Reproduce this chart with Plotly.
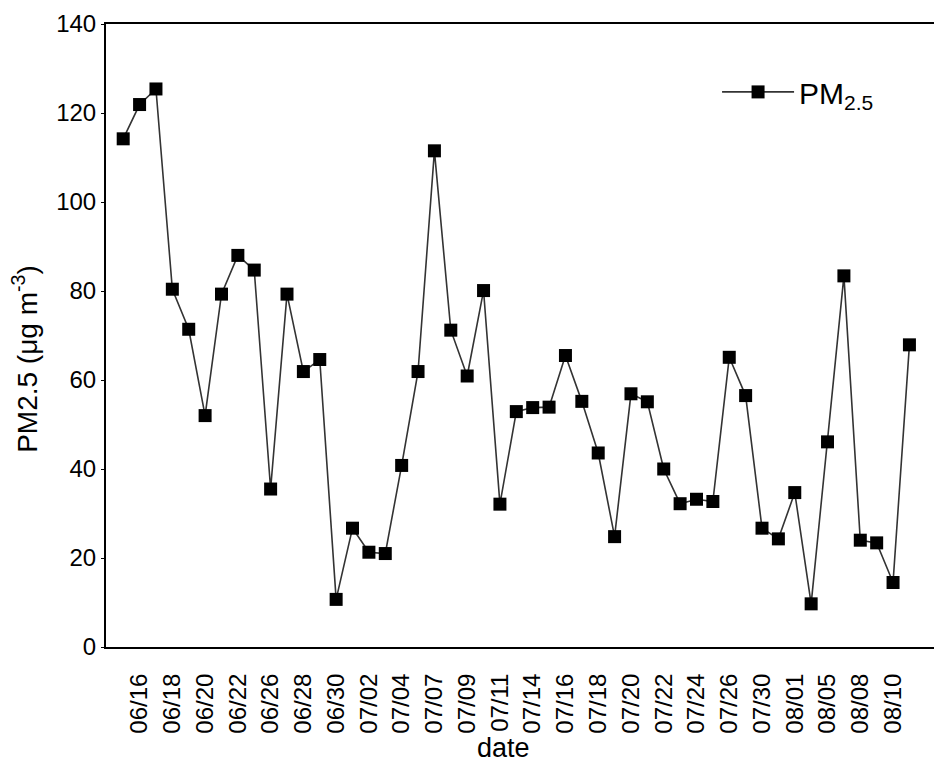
import plotly.graph_objects as go

dates = ["06/15", "06/16", "06/17", "06/18", "06/19", "06/20", "06/21", "06/22",
         "06/25", "06/26", "06/27", "06/28", "06/29", "06/30", "07/01", "07/02",
         "07/03", "07/04", "07/06", "07/07", "07/08", "07/09", "07/10", "07/11",
         "07/13", "07/14", "07/15", "07/16", "07/17", "07/18", "07/19", "07/20",
         "07/21", "07/22", "07/23", "07/24", "07/25", "07/26", "07/28", "07/30",
         "07/31", "08/01", "08/03", "08/05", "08/06", "08/08", "08/09", "08/10",
         "08/11"]

pm25 = [114.2, 121.9, 125.4, 80.4, 71.4, 52.0, 79.3, 88.0,
        84.7, 35.5, 79.3, 61.9, 64.6, 10.7, 26.7, 21.3,
        21.0, 40.8, 61.9, 111.5, 71.2, 60.9, 80.1, 32.1,
        52.9, 53.8, 53.9, 65.5, 55.2, 43.6, 24.8, 56.9,
        55.1, 40.0, 32.2, 33.2, 32.7, 65.1, 56.5, 26.7,
        24.3, 34.7, 9.7, 46.1, 83.4, 24.0, 23.4, 14.5,
        67.9]

tick_labels = dates[1::2]
y_ticks = [0, 20, 40, 60, 80, 100, 120, 140]

FONT = "Liberation Sans, Arial, sans-serif"

fig = go.Figure()
fig.add_trace(go.Scatter(
    x=dates, y=pm25, mode="lines+markers",
    name="PM<sub>2.5</sub>",
    line=dict(color="#333333", width=1.6),
    marker=dict(symbol="square", size=13, color="black"),
))

fig.update_layout(
    width=934, height=764,
    margin=dict(l=106, r=0, t=24, b=117, autoexpand=False),
    paper_bgcolor="white", plot_bgcolor="white",
    font=dict(family=FONT, color="black"),
    showlegend=True,
    legend=dict(x=0.738, y=0.891, xanchor="left", yanchor="middle",
                bgcolor="rgba(0,0,0,0)", font=dict(size=30, family=FONT),
                itemwidth=72),
    xaxis=dict(
        type="category", range=[-1.05, 49.5],
        tickmode="array", tickvals=tick_labels, ticktext=tick_labels,
        tickangle=-90, tickfont=dict(size=24, family=FONT),
        ticks="outside", ticklen=15, tickcolor="rgba(0,0,0,0)",
        showline=True, linecolor="black", linewidth=2, mirror=True,
        showgrid=False, zeroline=False,
    ),
    yaxis=dict(
        range=[0, 140], tickmode="array", tickvals=y_ticks,
        tickfont=dict(size=24, family=FONT),
        ticks="outside", ticklen=3, tickcolor="black",
        showline=True, linecolor="black", linewidth=2,
        showgrid=False, zeroline=False,
    ),
    annotations=[
        dict(text="PM2.5 (μg m<sup>-3</sup>)", xref="paper", yref="paper",
             x=-0.097, y=0.462, textangle=-90, showarrow=False,
             font=dict(size=28, family=FONT), xanchor="center", yanchor="middle"),
        dict(text="date", xref="paper", yref="paper",
             x=0.48, y=-0.162, showarrow=False,
             font=dict(size=27, family=FONT), xanchor="center", yanchor="middle"),
    ],
)

fig.write_html(
    "out.html",
    config={"displayModeBar": False},
    post_script="document.body.style.margin='0';document.body.style.overflow='hidden';",
)
